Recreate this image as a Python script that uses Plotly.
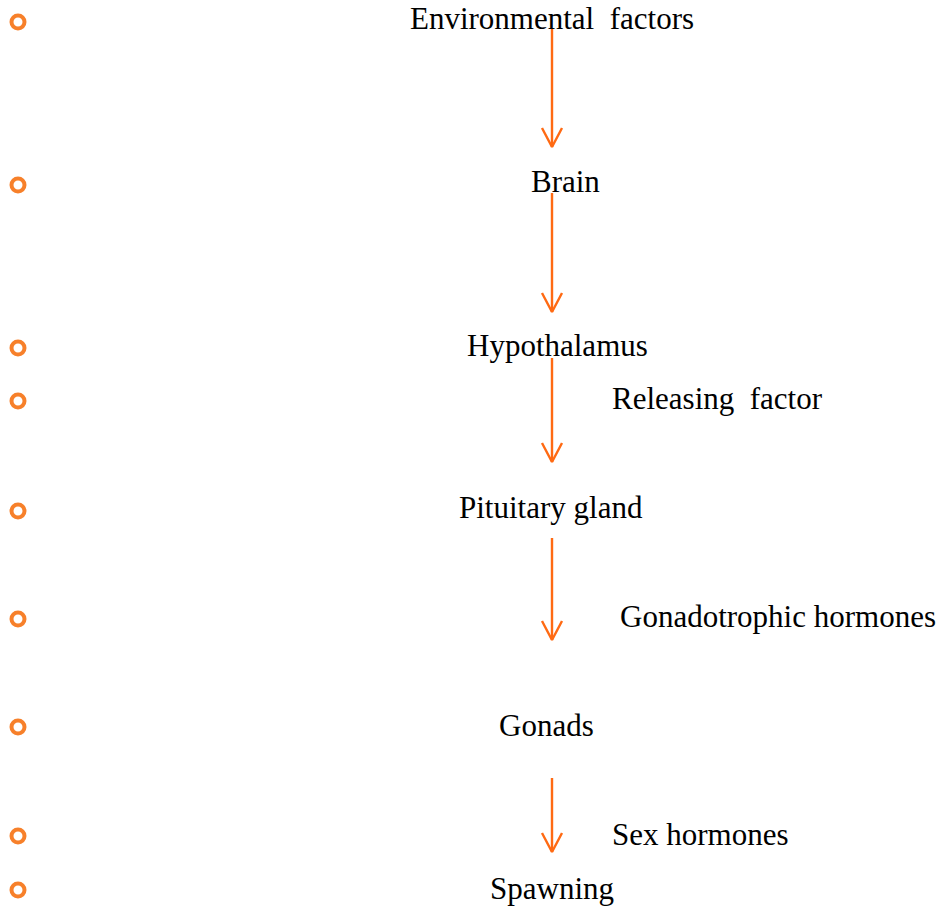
import plotly.graph_objects as go

# Diagram content
steps = ["Environmental factors", "Brain", "Hypothalamus", "Pituitary gland", "Gonads", "Spawning"]
step_rows = [18, 181, 345, 507, 725, 888]
step_x = [552, 565, 557, 551, 546, 552]

side_labels = ["Releasing factor", "Gonadotrophic hormones", "Sex hormones"]
side_rows = [398, 616, 834]
side_x = [610, 618, 610]

bullet_rows = [22, 185, 348, 401, 511, 619, 727, 836, 890]

arrow_x = 552
arrow_start = [28, 193, 358, 538, 778]
arrow_end = [147, 312, 462, 640, 852]

ARROW = "#FF6A13"
BULLET = "#F7802A"
FONT = "Liberation Serif"
W, H = 947, 909

fig = go.Figure()

# bullets
fig.add_trace(go.Scatter(
    x=[18] * len(bullet_rows), y=bullet_rows, mode="markers",
    marker=dict(symbol="circle-open", size=13, color=BULLET, line=dict(width=4, color=BULLET)),
    hoverinfo="skip", showlegend=False))

# arrows (shaft + open V head)
for s, e in zip(arrow_start, arrow_end):
    fig.add_trace(go.Scatter(x=[arrow_x, arrow_x], y=[s, e], mode="lines",
                             line=dict(color=ARROW, width=2.4), hoverinfo="skip", showlegend=False))
    fig.add_trace(go.Scatter(x=[arrow_x - 10, arrow_x, arrow_x + 10], y=[e - 19, e, e - 19], mode="lines",
                             line=dict(color=ARROW, width=2.4), hoverinfo="skip", showlegend=False))

for t, y, x in zip(steps, step_rows, step_x):
    fig.add_annotation(x=x, y=y, text=t.replace(" ", "&nbsp;&nbsp;") if t == "Environmental factors" else t,
                       showarrow=False, xanchor="center", yanchor="middle",
                       font=dict(family=FONT, size=31, color="black"))
for t, y, x in zip(side_labels, side_rows, side_x):
    fig.add_annotation(x=x, y=y, text=t.replace(" ", "&nbsp;&nbsp;") if t == "Releasing factor" else t,
                       showarrow=False, xanchor="left", yanchor="middle",
                       font=dict(family=FONT, size=31, color="black"))

fig.update_layout(
    width=W, height=H, margin=dict(l=0, r=0, t=0, b=0),
    paper_bgcolor="white", plot_bgcolor="white",
    xaxis=dict(range=[0, W], visible=False, fixedrange=True),
    yaxis=dict(range=[H, 0], visible=False, fixedrange=True),
)
fig.write_html("out.html", config={"displayModeBar": False},
               post_script="document.body.style.margin='0';document.body.style.overflow='hidden';")
